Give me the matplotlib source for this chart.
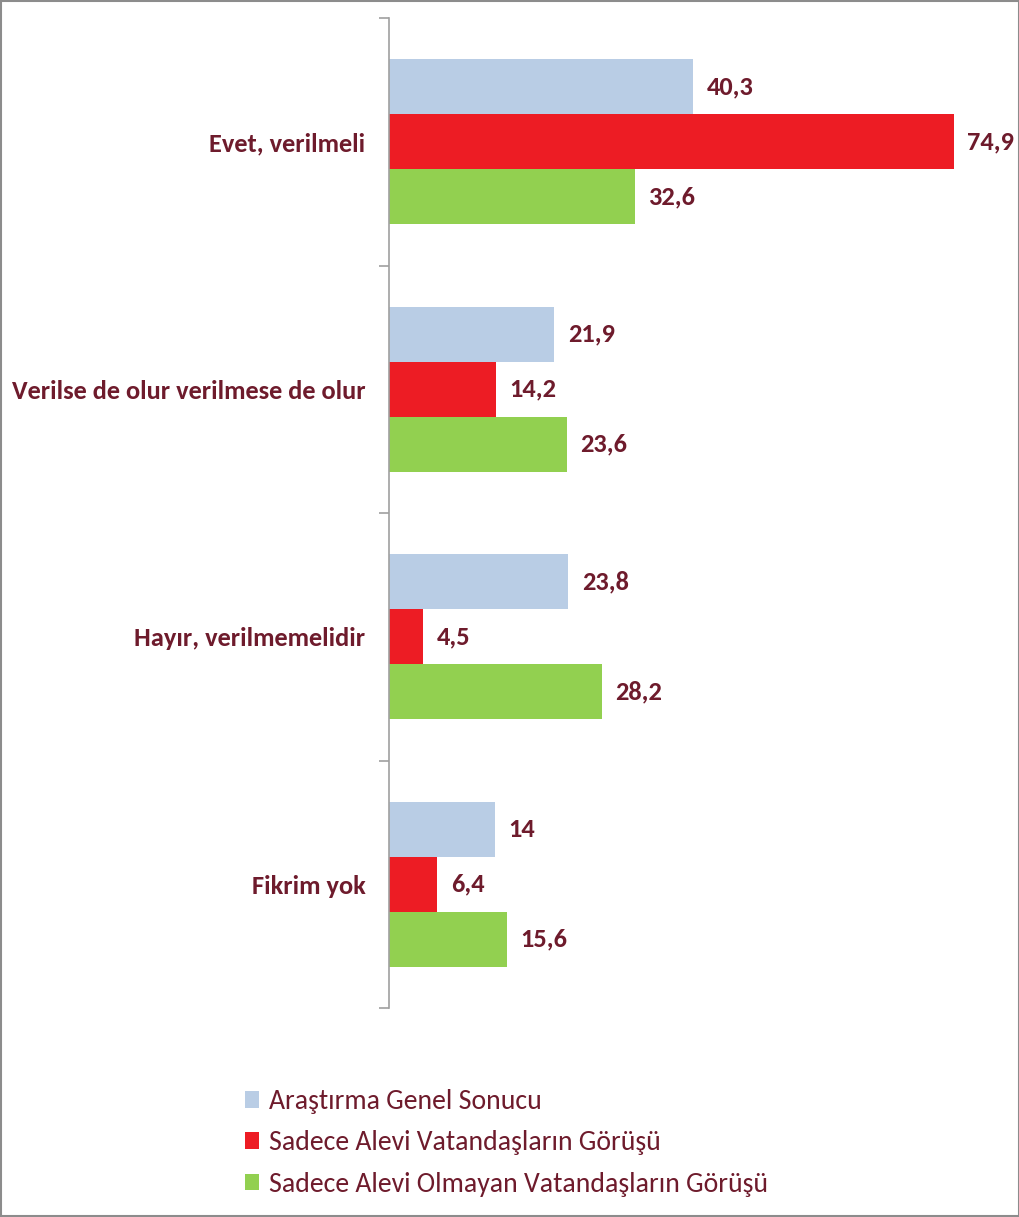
import numpy as np
import matplotlib
matplotlib.use("Agg")
from matplotlib import pyplot as plt
from matplotlib import font_manager as fm
from matplotlib.patches import Rectangle

categories = ["Evet, verilmeli", "Verilse de olur verilmese de olur",
              "Hayır, verilmemelidir", "Fikrim yok"]
series_names = ["Araştırma Genel Sonucu",
                "Sadece Alevi Vatandaşların Görüşü",
                "Sadece Alevi Olmayan Vatandaşların Görüşü"]
genel = [40.3, 21.9, 23.8, 14]
alevi = [74.9, 14.2, 4.5, 6.4]
alevi_olmayan = [32.6, 23.6, 28.2, 15.6]
value_labels = [["40,3", "21,9", "23,8", "14"],
                ["74,9", "14,2", "4,5", "6,4"],
                ["32,6", "23,6", "28,2", "15,6"]]

colors = ["#b9cde5", "#ed1c24", "#92d050"]
text_color = "#6e1b2c"

# Calibri benzeri dar bir font seç
installed = {f.name for f in fm.fontManager.ttflist}
main_font = "DejaVu Sans"
for cand in ["Carlito", "Liberation Sans Narrow", "Open Sans Condensed", "Roboto Condensed", "Liberation Sans"]:
    if cand in installed:
        main_font = cand
        break
plt.rcParams['font.family'] = [main_font, 'DejaVu Sans']

fig = plt.figure(figsize=(10.2, 12.17), dpi=100)
ax = fig.add_axes([389 / 1020, 1 - 1008 / 1217, 621 / 1020, 990 / 1217])

bh = 0.222
y = np.arange(len(categories))
series = [genel, alevi, alevi_olmayan]
for i, vals in enumerate(series):
    pos = y + (i - 1) * bh
    ax.barh(pos, vals, height=bh, color=colors[i], label=series_names[i])
    for p, v, lab in zip(pos, vals, value_labels[i]):
        ax.text(v + 1.8, p, lab, va="center", ha="left", fontsize=19,
                fontweight="bold", color=text_color)

ax.set_xlim(0, 621 / 7.54)
ax.set_ylim(len(categories) - 0.5, -0.5)
ax.set_yticks(y)
ax.set_yticklabels(categories, fontsize=19, fontweight="bold", color=text_color)
ax.tick_params(axis="y", length=0, pad=17)
ax.set_yticks(np.arange(-0.5, len(categories)), minor=True)
ax.tick_params(axis="y", which="minor", length=7, color="#a0a0a0", width=1.2)
ax.set_xticks([])
for s in ["top", "right", "bottom"]:
    ax.spines[s].set_visible(False)
ax.spines["left"].set_color("#a0a0a0")
ax.spines["left"].set_linewidth(1.2)

handles, labels = ax.get_legend_handles_labels()
leg = fig.legend(handles, labels, loc="upper left",
                 bbox_to_anchor=(245 / 1020, 1 - 1089 / 1217), frameon=False,
                 fontsize=20, handlelength=0.5, handleheight=0.55,
                 handletextpad=0.35, labelspacing=0.59, borderaxespad=0,
                 borderpad=0)
for t in leg.get_texts():
    t.set_color(text_color)

fig.patches.append(Rectangle((0.001, 0.001), 0.998, 0.998, transform=fig.transFigure,
                             fill=False, edgecolor="#8c8c8c", linewidth=1.5))

fig.savefig("out.png", dpi=100)
